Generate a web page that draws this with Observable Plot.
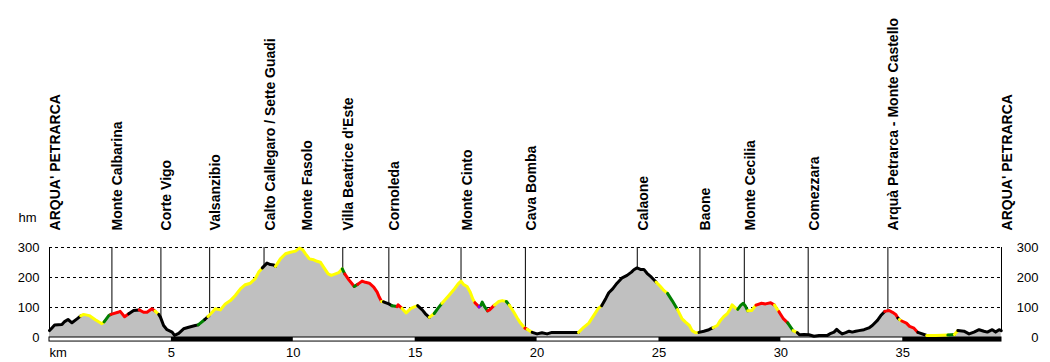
<!DOCTYPE html>
<html>
<head>
<meta charset="utf-8">
<script src="https://cdn.jsdelivr.net/npm/d3@7"></script>
<script src="https://cdn.jsdelivr.net/npm/@observablehq/plot@0.6"></script>
<style>
  html, body { margin: 0; padding: 0; background: #fff; }
  #chart svg { display: block; }
</style>
</head>
<body>
<div id="chart"></div>
<script>
// ---- Data ----
const profileKm = [
  0.00, 0.10, 0.21, 0.51, 0.62, 0.76, 0.92, 1.13, 1.28, 1.40,
  1.63, 1.88, 2.15, 2.24, 2.43, 2.52, 2.81, 2.90, 3.08, 3.25,
  3.45, 3.68, 3.86, 4.00, 4.20, 4.33, 4.48, 4.55, 4.68, 4.82,
  5.03, 5.13, 5.30, 5.50, 5.71, 5.98, 6.10, 6.37, 6.50, 6.67,
  6.80, 7.01, 7.21, 7.42, 7.62, 7.83, 8.03, 8.24, 8.44, 8.58,
  8.73, 8.92, 9.06, 9.20, 9.27, 9.47, 9.68, 9.88, 10.09, 10.25,
  10.39, 10.50, 10.66, 10.84, 10.98, 11.11, 11.25, 11.43, 11.56, 11.73,
  11.86, 12.01, 12.11, 12.28, 12.41, 12.50, 12.64, 12.82, 12.96, 13.12,
  13.30, 13.44, 13.53, 13.62, 13.70, 13.92, 14.05, 14.26, 14.30, 14.46,
  14.63, 14.81, 14.94, 15.10, 15.29, 15.42, 15.58, 15.78, 15.94, 16.10,
  16.38, 16.58, 16.76, 16.88, 16.99, 17.13, 17.26, 17.36, 17.45, 17.62,
  17.70, 17.75, 17.86, 17.97, 18.05, 18.25, 18.43, 18.57, 18.74, 18.86,
  19.05, 19.18, 19.32, 19.50, 19.60, 19.80, 20.00, 20.20, 20.41, 20.61,
  21.30, 21.70, 21.91, 22.12, 22.32, 22.50, 22.65, 22.83, 22.94, 23.10,
  23.28, 23.49, 23.69, 23.87, 23.97, 24.10, 24.24, 24.38, 24.51, 24.69,
  24.88, 25.06, 25.20, 25.35, 25.54, 25.76, 25.95, 26.09, 26.25, 26.36,
  26.50, 26.64, 26.84, 27.05, 27.22, 27.39, 27.52, 27.66, 27.80, 27.93,
  28.00, 28.14, 28.23, 28.35, 28.45, 28.55, 28.64, 28.80, 28.98, 29.21,
  29.37, 29.58, 29.74, 29.92, 30.09, 30.28, 30.50, 30.67, 30.77, 30.95,
  31.15, 31.36, 31.57, 31.91, 32.05, 32.18, 32.29, 32.41, 32.52, 32.66,
  32.80, 32.93, 33.07, 33.20, 33.41, 33.61, 33.75, 33.96, 34.10, 34.26,
  34.44, 34.58, 34.71, 34.80, 34.86, 34.96, 35.15, 35.28, 35.46, 35.62,
  35.87, 35.98, 36.35, 36.85, 37.12, 37.26, 37.51, 37.72, 37.92, 38.13,
  38.33, 38.47, 38.67, 38.81, 38.95, 39.04
];
const profileElev = [
  23, 32, 42, 43, 53, 60, 49, 62, 72, 77,
  73, 59, 46, 52, 73, 77, 84, 87, 69, 79,
  90, 92, 84, 84, 96, 88, 77, 68, 40, 26,
  18, 7, 14, 29, 34, 40, 42, 60, 70, 84,
  96, 92, 112, 123, 140, 162, 176, 181, 196, 218,
  232, 248, 243, 242, 237, 262, 279, 284, 288, 298,
  292, 279, 262, 259, 254, 251, 234, 212, 207, 212,
  216, 229, 212, 192, 179, 170, 177, 188, 184, 181,
  168, 151, 134, 120, 119, 112, 106, 103, 109, 97,
  82, 96, 101, 106, 92, 79, 67, 80, 98, 114,
  140, 159, 179, 188, 176, 170, 151, 129, 116, 102,
  108, 118, 101, 89, 92, 108, 120, 123, 120, 108,
  84, 66, 48, 31, 27, 17, 12, 16, 12, 17,
  17, 17, 34, 48, 73, 96, 106, 132, 149, 162,
  181, 199, 207, 218, 226, 232, 227, 227, 214, 201,
  185, 170, 157, 147, 123, 93, 62, 51, 40, 23,
  16, 17, 21, 26, 33, 40, 57, 70, 79, 96,
  109, 98, 94, 107, 114, 104, 89, 90, 108, 114,
  112, 116, 108, 86, 64, 49, 23, 16, 9, 10,
  9, 4, 7, 7, 14, 18, 27, 18, 12, 16,
  21, 18, 21, 23, 26, 32, 40, 57, 73, 87,
  90, 84, 77, 65, 60, 55, 48, 37, 31, 17,
  10, 7, 7, 8, 10, 23, 21, 12, 18, 26,
  21, 18, 26, 18, 26, 23
];
// gradient class of the segment that starts at each point
const profileClass = [
  "k","k","k","k","k","k","k","k","y","y",
  "y","y","y","g","g","r","r","r","r","k",
  "k","r","r","r","r","y","k","k","k","k",
  "k","k","k","k","k","k","g","k","y","y",
  "y","y","y","y","y","y","y","y","y","y",
  "k","k","k","k","y","y","y","y","y","y",
  "y","y","y","y","y","y","y","y","y","y",
  "y","g","r","r","r","g","r","r","r","r",
  "r","r","r","y","k","k","g","r","r","y",
  "y","y","y","k","k","k","y","g","g","y",
  "y","y","y","y","y","y","y","y","r","p",
  "g","g","g","r","r","y","y","y","g","y",
  "y","y","y","r","y","k","k","k","k","k",
  "k","y","y","y","y","y","k","k","k","k",
  "k","k","k","k","k","k","k","k","k","k",
  "y","y","y","g","g","y","y","y","y","y",
  "y","k","k","k","y","y","y","y","y","y",
  "y","y","g","g","g","g","y","y","r","r",
  "r","r","y","r","r","g","y","k","k","k",
  "k","k","k","k","k","k","k","k","k","k",
  "k","k","k","k","k","k","k","k","k","r",
  "r","r","r","k","y","r","r","r","r","k",
  "k","y","y","g","y","k","k","k","k","k",
  "k","k","k","k","k","k"
];
const classNames = ["k", "y", "g", "r", "p"];
const classColors = ["#000000", "#ffff00", "#008000", "#ff0000", "#7f00ff"];

const waypointNames = [
  "ARQUA' PETRARCA", "Monte Calbarina", "Corte Vigo", "Valsanzibio",
  "Calto Callegaro / Sette Guadi", "Monte Fasolo", "Villa Beatrice d'Este",
  "Cornoleda", "Monte Cinto", "Cava Bomba", "Calaone", "Baone",
  "Monte Cecilia", "Comezzara", "Arquà Petrarca - Monte Castello", "ARQUA' PETRARCA"
];
const waypointKm = [0, 2.56, 4.57, 6.57, 8.80, 10.32, 12.03, 13.92, 16.88, 19.52, 24.11, 26.68, 28.50, 31.12, 34.39, 39.05];
const waypointElev = [23, 78, 64, 66, 233, 296, 229, 112, 188, 30, 232, 20, 112, 9, 88, 23];

const elevTicks = [0, 100, 200, 300];
const gridLevels = [100, 200, 300];
const kmTicks = [5, 10, 15, 20, 25, 30, 35];
const barBreaks = [0, 5, 10, 15, 20, 25, 30, 35, 39.05];
const totalKm = 39.05;

// ---- Build tables ----
const points = profileKm.map((km, i) => ({km, elev: profileElev[i]}));
const segRows = [];
let seg = 0;
for (let i = 0; i < profileKm.length - 1; i++) {
  if (i === 0 || profileClass[i] !== profileClass[i - 1]) {
    seg++;
    segRows.push({km: profileKm[i], elev: profileElev[i], seg, cls: profileClass[i]});
  }
  segRows.push({km: profileKm[i + 1], elev: profileElev[i + 1], seg, cls: profileClass[i]});
}
const waypoints = waypointNames.map((name, i) => ({name, km: waypointKm[i], elev: waypointElev[i]}));
const barSegs = barBreaks.slice(0, -1).map((x1, i) => ({x1, x2: barBreaks[i + 1], dark: i % 2 === 1}));

const FONT = "'Liberation Sans', Arial, sans-serif";

const chart = Plot.plot({
  width: 1050,
  height: 362,
  marginLeft: 49,
  marginRight: 49,
  marginTop: 247,
  marginBottom: 25,
  x: {domain: [0, totalKm]},
  y: {domain: [0, 300]},
  color: {domain: classNames, range: classColors},
  style: {fontFamily: FONT, fontSize: "13px", background: "#fff", color: "#000", overflow: "visible"},
  marks: [
    Plot.ruleY(gridLevels, {stroke: "#000", strokeWidth: 1, strokeDasharray: "3,3"}),
    Plot.areaY(points, {x: "km", y: "elev", fill: "#c0c0c0"}),
    Plot.ruleX(waypoints, {x: "km", y1: "elev", y2: 300, stroke: "#000", strokeWidth: 1}),
    Plot.rect(barSegs.filter(d => !d.dark), {x1: "x1", x2: "x2", y1: 0, y2: -13.5, fill: "#fff"}),
    Plot.rect(barSegs.filter(d => d.dark), {x1: "x1", x2: "x2", y1: 0, y2: -13.5, fill: "#000"}),
    Plot.rect([{x1: 0, x2: totalKm}], {x1: "x1", x2: "x2", y1: 0, y2: -13.5, fill: "none", stroke: "#000", strokeWidth: 1}),
    Plot.line(segRows, {x: "km", y: "elev", z: "seg", stroke: "cls", strokeWidth: 3, strokeLinejoin: "round", strokeLinecap: "round"}),
    Plot.text(waypoints, {x: "km", y: 357, text: "name", rotate: -90, textAnchor: "start", dx: 6, fontWeight: "bold", fontSize: 14, fontFamily: FONT, fill: "#000"}),
    Plot.axisY(elevTicks, {anchor: "left", tickSize: 0, tickPadding: 10, fontSize: 13, label: null}),
    Plot.axisY(elevTicks, {anchor: "right", tickSize: 0, tickPadding: 37, textAnchor: "end", fontSize: 13, label: null}),
    Plot.axisX(kmTicks, {anchor: "bottom", tickSize: 0, tickPadding: 10, fontSize: 13, label: null, tickFormat: d => String(d)}),
    Plot.text(["km"], {frameAnchor: "bottom-left", text: d => d, textAnchor: "start", lineAnchor: "top", dy: 10, fontSize: 13}),
    Plot.text(["hm"], {frameAnchor: "top-left", text: d => d, textAnchor: "start", lineAnchor: "middle", dx: -31, dy: -30, fontSize: 13})
  ]
});
document.getElementById("chart").appendChild(chart);
</script>
</body>
</html>
